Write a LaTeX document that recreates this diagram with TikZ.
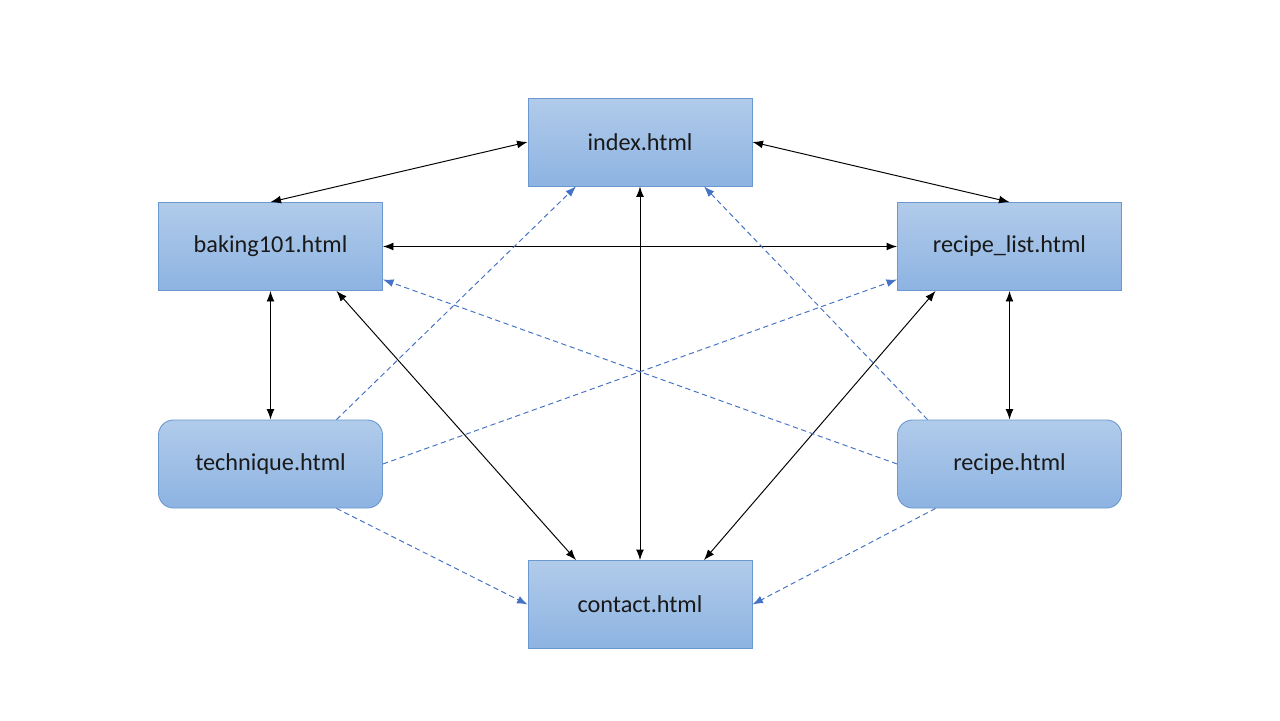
\documentclass[tikz,border=0pt]{standalone}
\usepackage{fontspec}
\setmainfont{Carlito}
\usetikzlibrary{arrows.meta}
\definecolor{boxtop}{HTML}{B1CBEA}
\definecolor{boxbot}{HTML}{8DB3E2}
\definecolor{boxline}{HTML}{6A98CF}
\definecolor{dashblue}{HTML}{4472C4}
\tikzset{
  page/.style={draw=boxline, line width=0.5pt, top color=boxtop, bottom color=boxbot,
    minimum width=224*0.02cm, minimum height=88*0.02cm, inner sep=0pt,
    font=\fontsize{13.8}{16}\selectfont, text=black!90},
  roundpage/.style={page, rounded corners=0.3cm},
  link/.style={black, line width=0.55pt, {Latex[length=6pt,width=4.5pt]}-{Latex[length=6pt,width=4.5pt]}},
  dlink/.style={dashblue, line width=0.55pt, dash pattern=on 3pt off 2pt, -{Latex[length=6pt,width=4.5pt]}}
}
\begin{document}
\begin{tikzpicture}[x=0.02cm,y=-0.02cm]
\useasboundingbox (0,0) rectangle (1280,720);
\node[page] (index) at (640,142) {index.html};
\node[page] (baking) at (270.5,246.5) {baking101.html};
\node[page] (rlist) at (1009.5,246.5) {recipe\_list.html};
\node[roundpage] (tech) at (270.5,464) {technique.html};
\node[roundpage] (recipe) at (1009.5,464) {recipe.html};
\node[page] (contact) at (640,604.5) {contact.html};
% black links
\draw[link] (baking.north) -- (index.west);
\draw[link] (index.east) -- (rlist.north);
\draw[link] (baking.east) -- (rlist.west);
\draw[link] (baking.south) -- (tech.north);
\draw[link] (rlist.south) -- (recipe.north);
\draw[link] (index.south) -- (contact.north);
\draw[link] ([xshift=66*0.02cm]baking.south) -- ([xshift=-64*0.02cm]contact.north);
\draw[link] ([xshift=-74*0.02cm]rlist.south) -- ([xshift=64*0.02cm]contact.north);
% dashed links
\draw[dlink] ([xshift=66*0.02cm]tech.north) -- ([xshift=-64*0.02cm]index.south);
\draw[dlink] (tech.east) -- ([yshift=-33*0.02cm]rlist.west);
\draw[dlink] (recipe.west) -- ([yshift=-33*0.02cm]baking.east);
\draw[dlink] ([xshift=-82*0.02cm]recipe.north) -- ([xshift=64*0.02cm]index.south);
\draw[dlink] ([xshift=66*0.02cm]tech.south) -- (contact.west);
\draw[dlink] ([xshift=-74*0.02cm]recipe.south) -- (contact.east);
\end{tikzpicture}
\end{document}
